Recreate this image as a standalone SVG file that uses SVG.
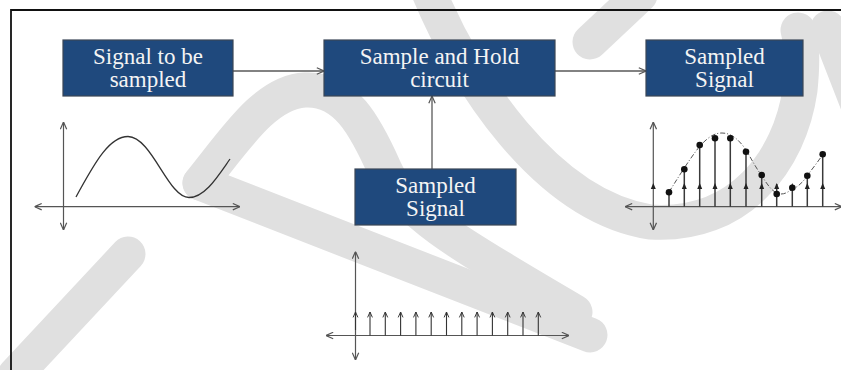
<svg xmlns="http://www.w3.org/2000/svg" width="841" height="370" viewBox="0 0 841 370">
<style>
.box{fill:#1F497D;stroke:#3b4656;stroke-width:1.2}
.lbl{font-family:"Liberation Serif","Times New Roman",serif;font-size:23px;fill:#f4f4f4;text-anchor:middle}
.conn{stroke:#595959;stroke-width:1.3;fill:none}
.axis{stroke:#555;stroke-width:1.2;fill:none}
.stem{stroke:#3a3a3a;stroke-width:1.5;fill:none}
.imp{stroke:#333;stroke-width:1.1;fill:none}
.wm{stroke:#e0e0e0;stroke-width:35;fill:none;stroke-linecap:round;stroke-linejoin:round}
.dot{fill:#111}
.tri{fill:#222}
</style>
<defs>
<marker id="arr" viewBox="0 0 10 10" refX="10" refY="5" markerWidth="8" markerHeight="8" markerUnits="userSpaceOnUse" orient="auto-start-reverse">
<path d="M1,1 L10,5 L1,9" fill="none" stroke="#555" stroke-width="1.5"/>
</marker>
<marker id="imp" viewBox="0 0 10 10" refX="10" refY="5" markerWidth="6" markerHeight="7" markerUnits="userSpaceOnUse" orient="auto">
<path d="M1,1 L10,5 L1,9" fill="none" stroke="#333" stroke-width="1.6"/>
</marker>
</defs>
<rect width="841" height="370" fill="#fff"/>
<g id="watermark">
<path class="wm" d="M15,375 L128,254"/>
<path class="wm" d="M200,183 L590,335"/>
<path class="wm" d="M200,183 C235,140 265,92 305,90 C345,88 365,125 385,170 C405,215 470,250 575,312"/>
<path class="wm" d="M428,-10 C465,80 545,205 650,222 C740,228 790,160 800,90 C803,60 802,45 798,30"/>
<path class="wm" d="M590,42 L640,-5"/>
<path class="wm" d="M828,28 L860,110"/>
</g>
<path d="M11,371 V10 H842" fill="none" stroke="#111" stroke-width="1.8"/>
<g id="connectors">
<line class="conn" x1="233" y1="71" x2="324" y2="71" marker-end="url(#arr)"/>
<line class="conn" x1="555" y1="71" x2="646" y2="71" marker-end="url(#arr)"/>
<line class="conn" x1="432" y1="169" x2="432" y2="96" marker-end="url(#arr)"/>
</g>
<g id="node-signal">
<rect class="box" x="63" y="40" width="170" height="56"/>
<text class="lbl" x="148" y="64">Signal to be</text>
<text class="lbl" x="148" y="87">sampled</text>
</g>
<g id="node-sh">
<rect class="box" x="324" y="40" width="231" height="56"/>
<text class="lbl" x="439.5" y="64">Sample and Hold</text>
<text class="lbl" x="439.5" y="87">circuit</text>
</g>
<g id="node-out">
<rect class="box" x="646" y="40" width="157" height="56"/>
<text class="lbl" x="724.5" y="64">Sampled</text>
<text class="lbl" x="724.5" y="87">Signal</text>
</g>
<g id="node-clock">
<rect class="box" x="355" y="169" width="161" height="56"/>
<text class="lbl" x="435.5" y="193">Sampled</text>
<text class="lbl" x="435.5" y="216">Signal</text>
</g>
<g id="graph-input">
<line class="axis" x1="63.5" y1="230" x2="63.5" y2="122" marker-start="url(#arr)" marker-end="url(#arr)"/>
<line class="axis" x1="34.5" y1="206.7" x2="240" y2="206.7" marker-start="url(#arr)" marker-end="url(#arr)"/>
<path d="M76,197 C96,160 110,136.5 128,136.5 C152,137 168,197.5 189,197.5 C205,197.5 218,176 230,159" fill="none" stroke="#333" stroke-width="1.3"/>
</g>
<g id="graph-clock">
<line class="axis" x1="355.5" y1="360" x2="355.5" y2="251.5" marker-start="url(#arr)" marker-end="url(#arr)"/>
<line class="axis" x1="326" y1="335.5" x2="569" y2="335.5" marker-start="url(#arr)" marker-end="url(#arr)"/>
<g class="imp" marker-end="url(#imp)">
<line x1="355.5" y1="330" x2="355.5" y2="312"/>
<line x1="370" y1="335.5" x2="370" y2="312"/>
<line x1="385.3" y1="335.5" x2="385.3" y2="312"/>
<line x1="400.6" y1="335.5" x2="400.6" y2="312"/>
<line x1="415.9" y1="335.5" x2="415.9" y2="312"/>
<line x1="431.2" y1="335.5" x2="431.2" y2="312"/>
<line x1="446.5" y1="335.5" x2="446.5" y2="312"/>
<line x1="461.8" y1="335.5" x2="461.8" y2="312"/>
<line x1="477.1" y1="335.5" x2="477.1" y2="312"/>
<line x1="492.4" y1="335.5" x2="492.4" y2="312"/>
<line x1="507.7" y1="335.5" x2="507.7" y2="312"/>
<line x1="523" y1="335.5" x2="523" y2="312"/>
<line x1="538.3" y1="335.5" x2="538.3" y2="312"/>
</g>
</g>
<g id="graph-output">
<line class="axis" x1="653.3" y1="230" x2="653.3" y2="122" marker-start="url(#arr)" marker-end="url(#arr)"/>
<line class="axis" x1="625" y1="206.7" x2="842" y2="206.7" marker-start="url(#arr)" marker-end="url(#arr)"/>
<path d="M669,192 C676,181 690,158 700,146 C710,135 716,133 722,133 C732,133 740,141 746,150 C752,160 756,168 762,176 C768,186 774,194 781,194 C786,194 789,191 793,189 C799,186 803,182 807,176 C812,169 818,162 823,154" fill="none" stroke="#555" stroke-width="1" stroke-dasharray="5 2 1 2"/>
<g class="stem">
<line x1="669" y1="206.7" x2="669" y2="192.3"/>
<line x1="684.3" y1="206.7" x2="684.3" y2="169.3"/>
<line x1="699.7" y1="206.7" x2="699.7" y2="145"/>
<line x1="715" y1="206.7" x2="715" y2="138.3"/>
<line x1="730.3" y1="206.7" x2="730.3" y2="138.3"/>
<line x1="746" y1="206.7" x2="746" y2="151.7"/>
<line x1="761.7" y1="206.7" x2="761.7" y2="175"/>
<line x1="776.7" y1="206.7" x2="776.7" y2="184"/>
<line x1="792.3" y1="206.7" x2="792.3" y2="186"/>
<line x1="807.3" y1="206.7" x2="807.3" y2="175.7"/>
<line x1="822.7" y1="206.7" x2="822.7" y2="154.3"/>
</g>
<g class="tri">
<polygon points="653.3,183 650.8,189 655.8,189"/>
<polygon points="684.3,183 681.8,189 686.8,189"/>
<polygon points="699.7,183 697.2,189 702.2,189"/>
<polygon points="715,183 712.5,189 717.5,189"/>
<polygon points="730.3,183 727.8,189 732.8,189"/>
<polygon points="746,183 743.5,189 748.5,189"/>
<polygon points="761.7,183 759.2,189 764.2,189"/>
<polygon points="776.7,183 774.2,189 779.2,189"/>
<polygon points="792.3,183 789.8,189 794.8,189"/>
<polygon points="807.3,183 804.8,189 809.8,189"/>
<polygon points="822.7,183 820.2,189 825.2,189"/>
</g>
<g class="dot">
<circle cx="669" cy="192.3" r="3.3"/>
<circle cx="684.3" cy="169.3" r="3.3"/>
<circle cx="699.7" cy="145" r="3.3"/>
<circle cx="715" cy="138.3" r="3.3"/>
<circle cx="730.3" cy="138.3" r="3.3"/>
<circle cx="746" cy="151.7" r="3.3"/>
<circle cx="761.7" cy="175" r="3.3"/>
<circle cx="776.7" cy="194" r="3.3"/>
<circle cx="792.3" cy="187.7" r="3.3"/>
<circle cx="807.3" cy="175.7" r="3.3"/>
<circle cx="822.7" cy="154.3" r="3.3"/>
</g>
</g>
</svg>
